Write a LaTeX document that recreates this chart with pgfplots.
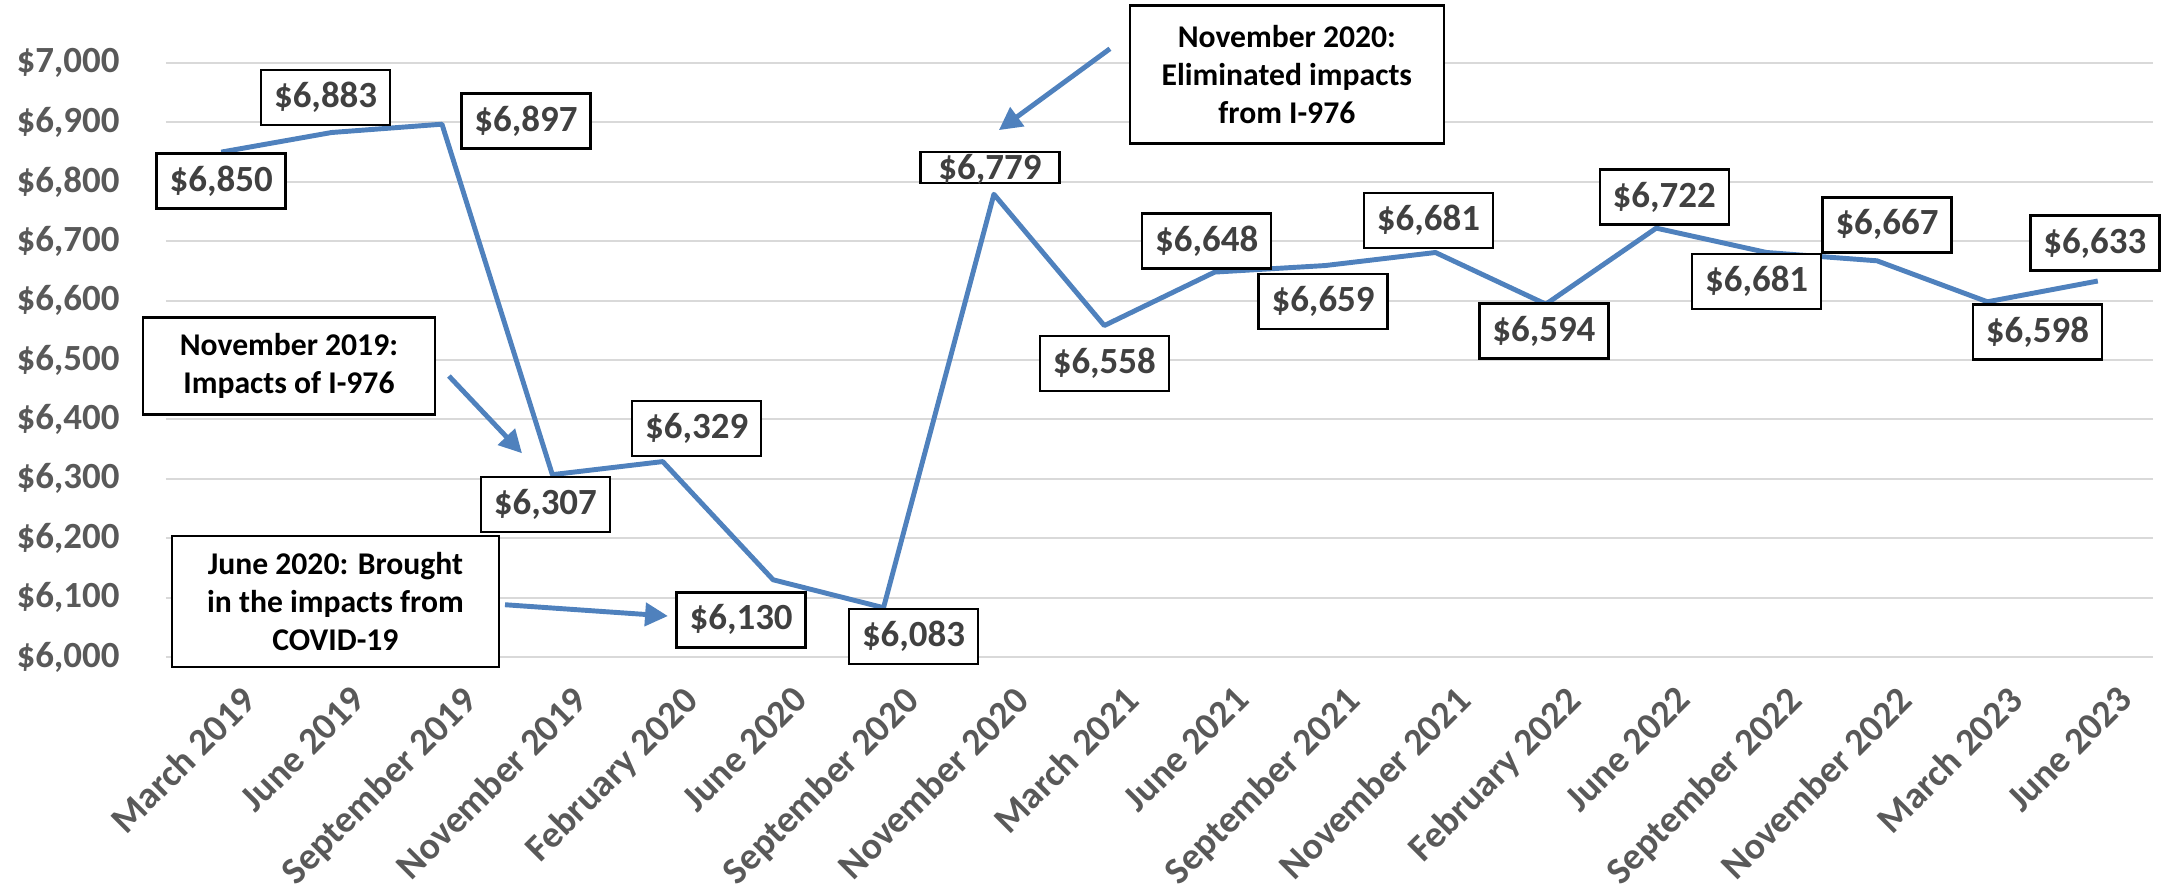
\documentclass[border=0pt]{standalone}
\usepackage{fontspec}
\setmainfont{Carlito}
\usepackage{pgfplots}
\pgfplotsset{compat=1.18}
\usetikzlibrary{arrows.meta}

\definecolor{lineblue}{HTML}{4F81BD}
\definecolor{tickgray}{HTML}{595959}
\definecolor{labgray}{HTML}{404040}
\definecolor{gridgray}{HTML}{D9D9D9}

\tikzset{
  vlab/.style={draw=black, line width=0.7pt, fill=white, inner sep=0pt,
    minimum width=1.29cm, minimum height=0.55cm, text=labgray,
    font=\fontsize{10.5}{12}\selectfont\bfseries},
  note/.style={draw=black, line width=0.7pt, fill=white, align=center,
    inner sep=0pt, font=\fontsize{9}{10.8}\selectfont\bfseries, text=black},
  notearrow/.style={draw=lineblue, line width=1.4pt,
    -{Triangle[width=6.5pt,length=6.5pt]}},
}

\begin{document}
\begin{tikzpicture}
\begin{axis}[
    scale only axis,
    width=19.87cm, height=5.94cm,
    xmin=-0.5, xmax=17.5,
    ymin=6000, ymax=7000,
    ytick={6000,6100,...,7000},
    xtick={0,...,17},
    xticklabels={March 2019, June 2019, September 2019, November 2019,
      February 2020, June 2020, September 2020, November 2020, March 2021,
      June 2021, September 2021, November 2021, February 2022, June 2022,
      September 2022, November 2022, March 2023, June 2023},
    yticklabel={\$\pgfmathprintnumber{\tick}},
    yticklabel style={/pgf/number format/.cd, fixed, 1000 sep={,},
      assume math mode=true, /tikz/.cd, text=tickgray,
      font=\fontsize{10.5}{12}\selectfont\bfseries, xshift=-0.34cm},
    xticklabel style={rotate=45, anchor=north east, text=tickgray,
      font=\fontsize{10.8}{13}\selectfont\bfseries,
      yshift=-0.2cm, xshift=0.06cm},
    axis line style={draw=none},
    major tick length=0,
    ymajorgrids,
    grid style={draw=gridgray, line width=0.6pt},
    clip=false,
]
\addplot[lineblue, line width=1.4pt, line join=round] coordinates {
  (0,6850) (1,6883) (2,6897) (3,6307) (4,6329) (5,6130) (6,6083)
  (7,6779) (8,6558) (9,6648) (10,6659) (11,6681) (12,6594) (13,6722)
  (14,6681) (15,6667) (16,6598) (17,6633)};

% value labels
\node[vlab, xshift=0cm,    yshift=-0.29cm] at (axis cs:0,6850) {\$6,850};
\node[vlab, xshift=-0.06cm,yshift=0.35cm]  at (axis cs:1,6883) {\$6,883};
\node[vlab, xshift=0.84cm, yshift=0.03cm]  at (axis cs:2,6897) {\$6,897};
\node[vlab, xshift=-0.07cm,yshift=-0.30cm] at (axis cs:3,6307) {\$6,307};
\node[vlab, xshift=0.34cm, yshift=0.33cm]  at (axis cs:4,6329) {\$6,329};
\node[vlab, xshift=-0.32cm,yshift=-0.40cm] at (axis cs:5,6130) {\$6,130};
\node[vlab, xshift=0.30cm, yshift=-0.29cm] at (axis cs:6,6083) {\$6,083};
\node[vlab, minimum width=1.39cm, minimum height=0.31cm, inner ysep=0.2mm,
  text depth=0pt, xshift=-0.04cm, yshift=0.27cm] at (axis cs:7,6779) {\$6,779};
\node[vlab, xshift=0cm,    yshift=-0.38cm] at (axis cs:8,6558) {\$6,558};
\node[vlab, xshift=-0.08cm,yshift=0.31cm]  at (axis cs:9,6648) {\$6,648};
\node[vlab, xshift=-0.02cm,yshift=-0.36cm] at (axis cs:10,6659) {\$6,659};
\node[vlab, xshift=-0.07cm,yshift=0.32cm]  at (axis cs:11,6681) {\$6,681};
\node[vlab, xshift=-0.02cm,yshift=-0.27cm] at (axis cs:12,6594) {\$6,594};
\node[vlab, xshift=0.08cm, yshift=0.31cm]  at (axis cs:13,6722) {\$6,722};
\node[vlab, xshift=-0.10cm,yshift=-0.29cm] at (axis cs:14,6681) {\$6,681};
\node[vlab, xshift=0.10cm, yshift=0.36cm]  at (axis cs:15,6667) {\$6,667};
\node[vlab, xshift=0.50cm, yshift=-0.30cm] at (axis cs:16,6598) {\$6,598};
\node[vlab, xshift=-0.03cm,yshift=0.38cm]  at (axis cs:17,6633) {\$6,633};

% annotations
\node[note, minimum width=2.92cm, minimum height=0.97cm] at (axis cs:0.614,6490)
  {November 2019:\\Impacts of I-976};
\draw[notearrow] (axis cs:2.063,6473) -- (axis cs:2.725,6343);

\node[note, minimum width=3.27cm, minimum height=1.31cm] at (axis cs:1.035,6093)
  {June 2020: Brought\\in the impacts from\\COVID-19};
\draw[notearrow] (axis cs:2.571,6088) -- (axis cs:4.047,6069);

\node[note, minimum width=3.14cm, minimum height=1.38cm] at (axis cs:9.654,6981)
  {November 2020:\\Eliminated impacts\\from I-976};
\draw[notearrow] (axis cs:8.051,7024) -- (axis cs:7.045,6887);
\end{axis}
\pgfresetboundingbox
\path[use as bounding box] (-1.66cm,-2.34cm) rectangle (19.98cm,6.57cm);
\end{tikzpicture}
\end{document}
